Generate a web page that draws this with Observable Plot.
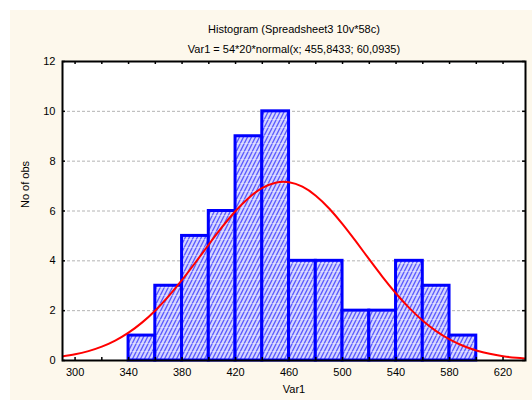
<!DOCTYPE html>
<html><head><meta charset="utf-8">
<script src="https://cdn.jsdelivr.net/npm/d3@7"></script>
<script src="https://cdn.jsdelivr.net/npm/@observablehq/plot@0.6"></script>
<style>
body{margin:0;background:#fff}
#chart svg{display:block;max-width:none}
</style>
</head><body><div id="chart"></div>
<script>
// ---- data ----
const binStarts = [340,360,380,400,420,440,460,480,500,520,540,560,580];
const binWidth = 20;
const counts    = [1,3,5,6,9,10,4,4,2,2,4,3,1];
// fitted normal curve (54*20*normal(x; 455.8433; 60.0935))
const curveX = [290,300,310,320,330,340,350,360,370,380,390,400,410,420,430,440,450,460,470,480,490,500,510,520,530,540,550,560,570,580,590,600,610,620,630,640];
const curveY = [0.159,0.248,0.377,0.557,0.800,1.118,1.520,2.010,2.585,3.233,3.934,4.656,5.359,6.001,6.536,6.925,7.136,7.153,6.974,6.613,6.100,5.473,4.777,4.055,3.348,2.689,2.101,1.597,1.180,0.848,0.593,0.403,0.267,0.172,0.108,0.065];
const xTicks = [300,340,380,420,460,500,540,580,620];
const xMinorTicks = [300,320,340,360,380,400,420,440,460,480,500,520,540,560,580,600,620];
const yTicks = [0,2,4,6,8,10,12];
const yGrid = [2,4,6,8,10];
const titleText = "Histogram (Spreadsheet3 10v*58c)";
const subtitleText = "Var1 = 54*20*normal(x; 455,8433; 60,0935)";
const xLabelText = "Var1";
const yLabelText = "No of obs";

const xDomain = [290.6, 636.8];
const yDomain = [0, 12];

const bins = binStarts.map((s, i) => ({x1: s, x2: s + binWidth, n: counts[i]}));
const curve = curveX.map((x, i) => ({x, y: curveY[i]}));

const font = "'Liberation Sans', Arial, sans-serif";

const svg = Plot.plot({
  width: 532,
  height: 400,
  marginLeft: 62,
  marginRight: 7,
  marginTop: 61,
  marginBottom: 40,
  style: {fontFamily: font, fontSize: "11px", color: "#000", background: "transparent"},
  x: {domain: xDomain, axis: null},
  y: {domain: yDomain, axis: null},
  marks: [
    Plot.frame({fill: "white", stroke: "none"}),
    Plot.gridY(yGrid, {stroke: "#b4b4b4", strokeOpacity: 1, strokeDasharray: "3,2"}),
    Plot.rectY(bins, {x1: "x1", x2: "x2", y: "n", fill: "url(#hatch)", stroke: "#0000ff", strokeWidth: 3, inset: 0}),
    Plot.line(curve, {x: "x", y: "y", stroke: "#ff0000", strokeWidth: 2, curve: "natural", clip: true}),
    // inward minor ticks on bottom and top
    Plot.ruleX(xMinorTicks, {x: d => d, y1: 0, y2: 0.12, stroke: "#000", strokeWidth: 1.5}),
    Plot.ruleX(xMinorTicks, {x: d => d, y1: 12, y2: 11.88, stroke: "#000", strokeWidth: 1.5}),
    // inward ticks on left and right
    Plot.ruleY(yTicks, {y: d => d, x1: xDomain[0], x2: xDomain[0] + 2.2, stroke: "#000", strokeWidth: 1.5}),
    Plot.ruleY(yTicks, {y: d => d, x1: xDomain[1], x2: xDomain[1] - 2.2, stroke: "#000", strokeWidth: 1.5}),
    Plot.axisX(xTicks, {tickSize: 0, tickPadding: 8, label: null, fontSize: 11}),
    Plot.axisY(yTicks, {tickSize: 0, tickPadding: 7, label: null, fontSize: 11}),
    Plot.frame({stroke: "#000", strokeWidth: 2}),
    Plot.text([titleText], {frameAnchor: "top", dy: -36, fontSize: 11, fill: "#000"}),
    Plot.text([subtitleText], {frameAnchor: "top", dy: -16, fontSize: 11, fill: "#000"}),
    Plot.text([xLabelText], {frameAnchor: "bottom", dy: 32, fontSize: 11, fill: "#000"}),
    Plot.text([yLabelText], {frameAnchor: "left", dx: -37, dy: -3, rotate: -90, fontSize: 11, fill: "#000"})
  ]
});

const s = d3.select(svg);
s.style("background", "#ffffff");
s.insert("rect", ":first-child")
  .attr("x", 10).attr("y", 10).attr("width", 522).attr("height", 390)
  .attr("fill", "#fdf8ec");
const defs = s.insert("defs", ":first-child");
const pat = defs.append("pattern")
  .attr("id", "hatch")
  .attr("patternUnits", "userSpaceOnUse")
  .attr("width", 4).attr("height", 8);
pat.append("rect").attr("width", 4).attr("height", 8).attr("fill", "#d4d4ff");
pat.append("path").attr("d", "M0,8 L4,0 M-1,2 L1,-2 M3,10 L5,6")
  .attr("stroke", "#5a5aff").attr("stroke-width", 1.3).attr("fill", "none");
pat.append("line").attr("x1", 0).attr("x2", 4).attr("y1", 7.5).attr("y2", 7.5)
  .attr("stroke", "#ffffff").attr("stroke-width", 0.6).attr("stroke-opacity", 0.6);

document.getElementById("chart").appendChild(svg);
</script>
</body></html>
